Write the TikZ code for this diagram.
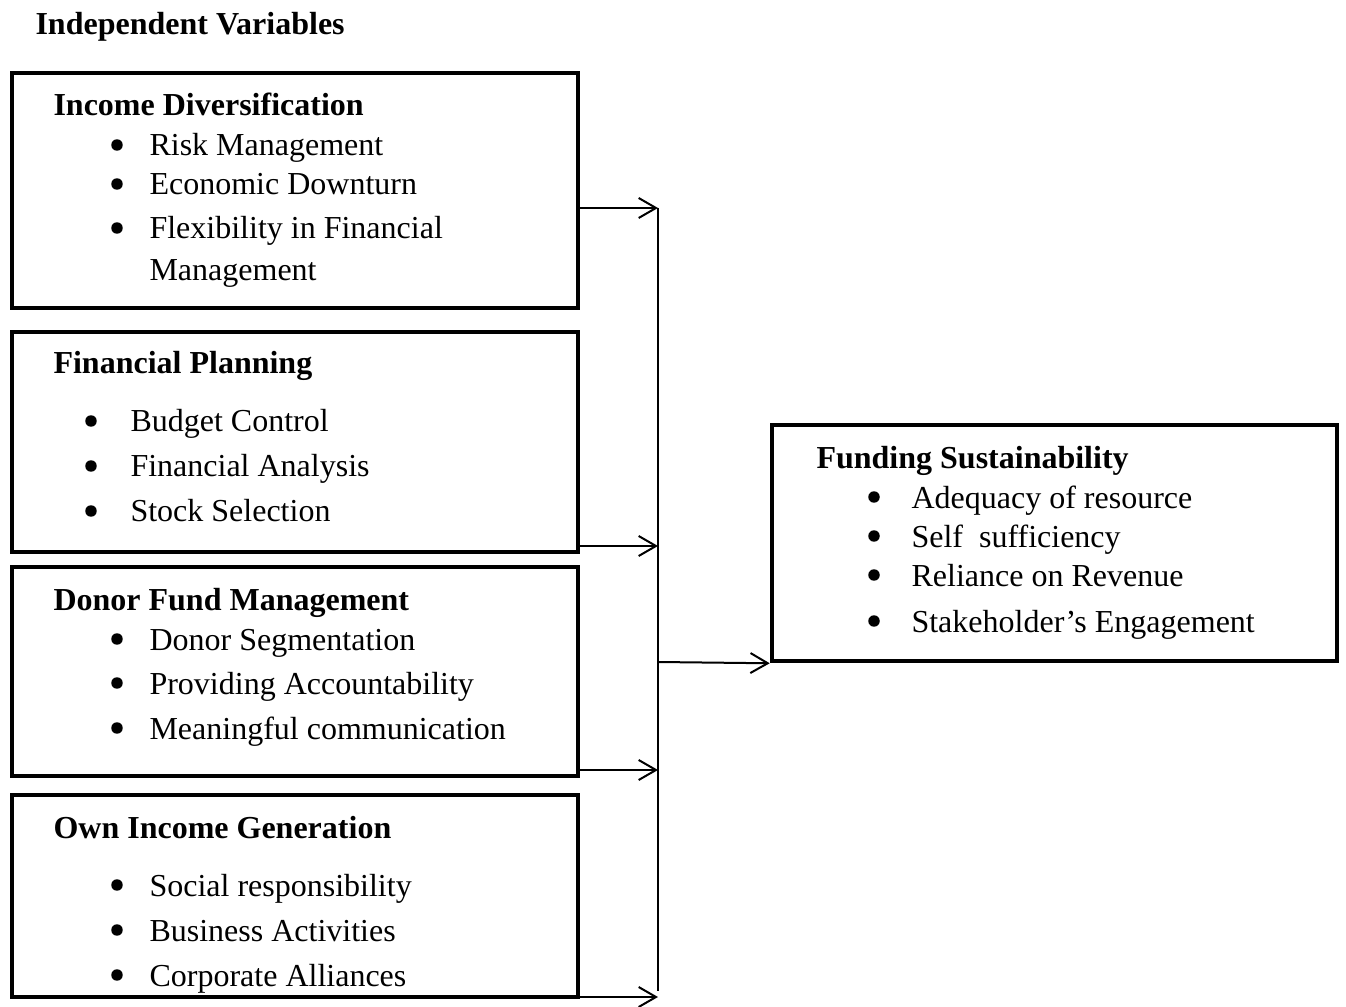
\documentclass[tikz,border=0pt]{standalone}
\usepackage{fontspec}
\setmainfont{Liberation Serif}
\usetikzlibrary{arrows.meta,fit}

\tikzset{
  box/.style={draw, line width=1.7pt, inner sep=0pt},
  head/.style={anchor=base west, inner sep=0pt, font=\fontsize{12}{14}\selectfont\bfseries},
  item/.style={anchor=base west, inner sep=0pt, font=\fontsize{12}{14}\selectfont},
  dot/.style={circle, fill, inner sep=0pt, minimum size=4.3pt},
  link/.style={line width=0.75pt, -{Straight Barb[length=6.5pt,width=7.5pt,line width=0.75pt]}}
}

\begin{document}
\begin{tikzpicture}[x=0.375pt,y=-0.375pt]
\useasboundingbox (0,0) rectangle (1346,1007);

\node[head] (title) at (35,35) {Independent Variables};

% left boxes
\node[box, fit={(12,73) (578,308)}] (income) {};
\node[box, fit={(12,332) (578,552)}] (planning) {};
\node[box, fit={(12,567) (578,776)}] (donor) {};
\node[box, fit={(12,795) (578,997)}] (own) {};

% right box
\node[box, fit={(772,425) (1337,661)}] (funding) {};

\node[head] (incomeh) at (53,116) {Income Diversification};
\node[dot] (i1d) at (117,145) {};
\node[item] (i1) at (149,156) {Risk Management};
\node[dot] (i2d) at (117,184) {};
\node[item] (i2) at (149,195) {Economic Downturn};
\node[dot] (i3d) at (117,228) {};
\node[item] (i3) at (149,239) {Flexibility in Financial};
\node[item] (i4) at (149,281) {Management};

\node[head] (planningh) at (53,374) {Financial Planning};
\node[dot] (p1d) at (91,421) {};
\node[item] (p1) at (130,432) {Budget Control};
\node[dot] (p2d) at (91,466) {};
\node[item] (p2) at (130,477) {Financial Analysis};
\node[dot] (p3d) at (91,511) {};
\node[item] (p3) at (130,522) {Stock Selection};

\node[head] (donorh) at (53,610) {Donor Fund Management};
\node[dot] (d1d) at (117,639) {};
\node[item] (d1) at (149,650) {Donor Segmentation};
\node[dot] (d2d) at (117,683) {};
\node[item] (d2) at (149,694) {Providing Accountability};
\node[dot] (d3d) at (117,728) {};
\node[item] (d3) at (149,739) {Meaningful communication};

\node[head] (ownh) at (53,838) {Own Income Generation};
\node[dot] (o1d) at (117,885) {};
\node[item] (o1) at (149,896) {Social responsibility};
\node[dot] (o2d) at (117,930) {};
\node[item] (o2) at (149,941) {Business Activities};
\node[dot] (o3d) at (117,975) {};
\node[item] (o3) at (149,986) {Corporate Alliances};

\node[head] (fundingh) at (816,469) {Funding Sustainability};
\node[dot] (f1d) at (874,497) {};
\node[item] (f1) at (911,508) {Adequacy of resource};
\node[dot] (f2d) at (874,536) {};
\node[item] (f2) at (911,547) {Self\ \ sufficiency};
\node[dot] (f3d) at (874,575) {};
\node[item] (f3) at (911,586) {Reliance on Revenue};
\node[dot] (f4d) at (874,621) {};
\node[item] (f4) at (911,632) {Stakeholder’s Engagement};

% arrows into the collecting line
\coordinate (c1) at (658,208);
\coordinate (c2) at (658,546);
\coordinate (c3) at (658,770);
\coordinate (c4) at (658,997);
\coordinate (cend) at (658,991);
\coordinate (cout) at (658,662);

\draw[link] (income.east |- c1) -- (c1);
\draw[link] (planning.east |- c2) -- (c2);
\draw[link] (donor.east |- c3) -- (c3);
\draw[link] (own.east |- c4) -- (c4);
\draw[line width=0.75pt] (c1) -- (cend);
\draw[link] (cout) -- (funding.south west);
\end{tikzpicture}
\end{document}
